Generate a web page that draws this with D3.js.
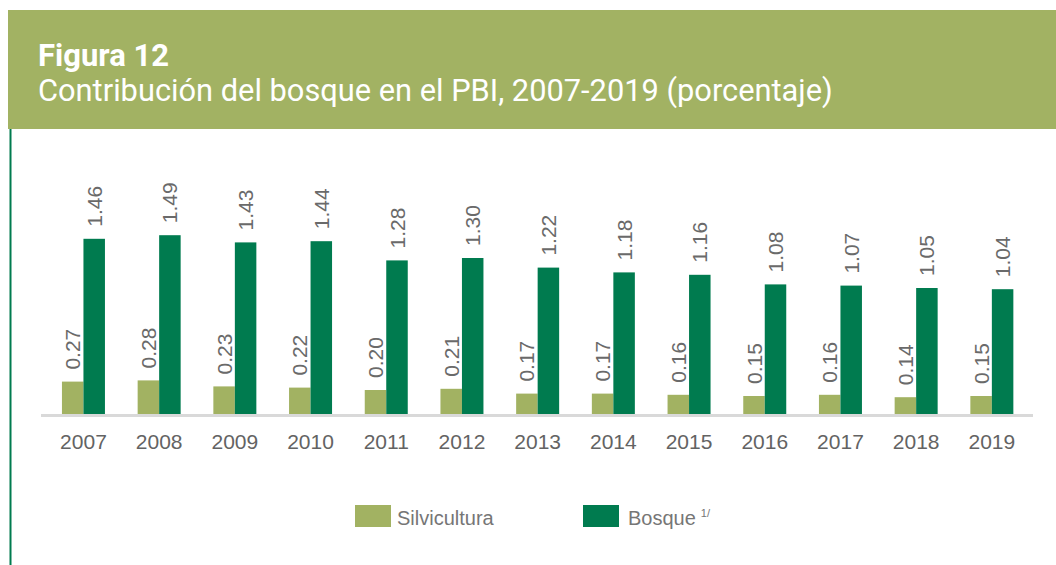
<!DOCTYPE html>
<html>
<head>
<meta charset="utf-8">
<script src="https://cdn.jsdelivr.net/npm/d3@7"></script>
<style>
    body { margin: 0; background: #fff; }
    svg { display: block; }
    .year-label { font-family: "Liberation Sans", Arial, sans-serif; font-size: 21px; fill: #636363; }
    .val-label { font-family: "Liberation Sans", Arial, sans-serif; font-size: 21px; fill: #6a6a6a; }
    .legend-text { font-family: "Liberation Sans", Arial, sans-serif; font-size: 20px; fill: #767676; }
</style>
</head>
<body>
<svg id="chart" width="1056" height="565"></svg>
<script>
const years = ['2007', '2008', '2009', '2010', '2011', '2012', '2013', '2014', '2015', '2016', '2017', '2018', '2019'];
const silvicultura = [0.27, 0.28, 0.23, 0.22, 0.20, 0.21, 0.17, 0.17, 0.16, 0.15, 0.16, 0.14, 0.15];
const bosque = [1.46, 1.49, 1.43, 1.44, 1.28, 1.30, 1.22, 1.18, 1.16, 1.08, 1.07, 1.05, 1.04];
const seriesNames = ['Silvicultura', 'Bosque'];
const seriesColors = ['#a2b262', '#007b4f'];

const svg = d3.select('#chart');

// header band
svg.append('rect')
    .attr('x', 8).attr('y', 10)
    .attr('width', 1048).attr('height', 119)
    .attr('fill', '#a2b263');

svg.append('line')
    .attr('x1', 10.5).attr('x2', 10.5)
    .attr('y1', 129).attr('y2', 565)
    .attr('stroke', '#007b4f')
    .attr('stroke-width', 2);

svg.append('text')
    .attr('x', 38).attr('y', 66)
    .attr('font-family', 'Roboto, sans-serif')
    .attr('font-weight', 'bold')
    .attr('font-size', 31)
    .attr('fill', '#fff')
    .text('Figura 12');

svg.append('text')
    .attr('x', 38).attr('y', 101)
    .attr('font-family', 'Roboto, sans-serif')
    .attr('font-size', 30.8)
    .attr('fill', '#fff')
    .text('Contribución del bosque en el PBI, 2007-2019 (porcentaje)');

// scales
const baseY = 414;
const x = d3.scaleBand()
    .domain(years)
    .range([45.6, 1029.7]);

const groupW = 43;
const sub = d3.scaleBand()
    .domain(seriesNames)
    .range([-groupW / 2, groupW / 2]);

const y = d3.scaleLinear()
    .domain([0, 1.5])
    .range([baseY, baseY - 180]);

const rows = years.map((yr, i) => ({
    year: yr,
    values: [
        {name: 'Silvicultura', value: silvicultura[i], color: seriesColors[0]},
        {name: 'Bosque', value: bosque[i], color: seriesColors[1]}
    ]
}));

const groups = svg.selectAll('.grp')
    .data(rows)
    .enter()
    .append('g')
    .attr('class', 'grp')
    .attr('transform', d => `translate(${x(d.year) + x.bandwidth() / 2},0)`);

groups.selectAll('rect')
    .data(d => d.values)
    .enter()
    .append('rect')
    .attr('x', d => sub(d.name))
    .attr('y', d => y(d.value))
    .attr('width', sub.bandwidth())
    .attr('height', d => baseY - y(d.value))
    .attr('fill', d => d.color);

groups.selectAll('.val-label')
    .data(d => d.values)
    .enter()
    .append('text')
    .attr('class', 'val-label')
    .attr('transform', d => {
        const cx = sub(d.name) + sub.bandwidth() / 2;
        return `translate(${cx},${y(d.value) - 12}) rotate(-90)`;
    })
    .attr('dy', '0.36em')
    .text(d => d3.format('.2f')(d.value));

// axis line
svg.append('line')
    .attr('x1', 41).attr('x2', 1033)
    .attr('y1', baseY + 1.5).attr('y2', baseY + 1.5)
    .attr('stroke', '#d9d9d9')
    .attr('stroke-width', 3);

const xAxis = svg.append('g')
    .attr('transform', `translate(0,${baseY})`)
    .call(d3.axisBottom(x).tickSize(0).tickPadding(20));
xAxis.select('.domain').remove();
xAxis.selectAll('text')
    .attr('class', 'year-label')
    .attr('font-size', null)
    .attr('font-family', null)
    .attr('fill', null);

// legend
const legend = svg.selectAll('.legend')
    .data(seriesNames)
    .enter()
    .append('g')
    .attr('class', 'legend')
    .attr('transform', (d, i) => `translate(${355 + i * 228},505)`);

legend.append('rect')
    .attr('width', 36)
    .attr('height', 22)
    .attr('fill', (d, i) => seriesColors[i]);

const lt = legend.append('text')
    .attr('class', 'legend-text')
    .attr('x', (d, i) => i == 0 ? 42 : 45)
    .attr('y', 20)
    .text(d => d);

lt.filter(d => d == 'Bosque')
    .append('tspan')
    .attr('dx', 5)
    .attr('dy', -8)
    .attr('font-size', 11)
    .text('1/');
</script>
</body>
</html>
